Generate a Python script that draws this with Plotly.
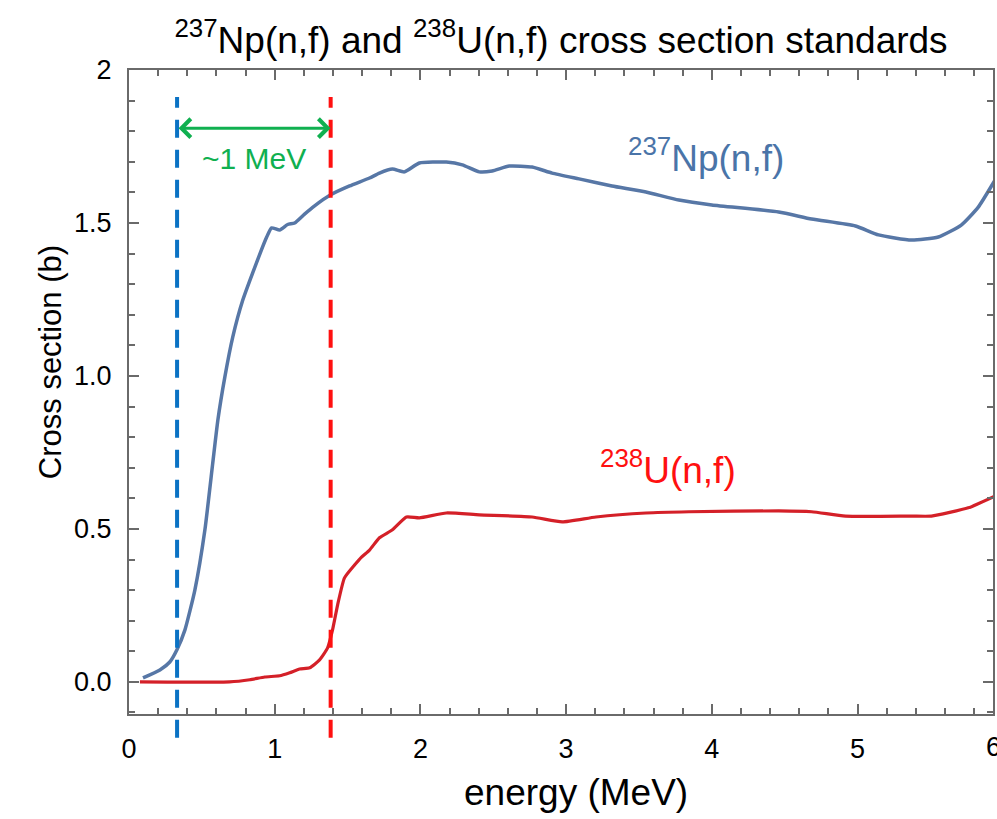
import plotly.graph_objects as go

# ---- data ----
np_energy = [0.096, 0.212, 0.28, 0.329, 0.384, 0.452, 0.521, 0.575, 0.61, 0.658, 0.712, 0.781,
             0.849, 0.945, 0.979, 1.034, 1.089, 1.137, 1.205, 1.274, 1.384, 1.514, 1.651, 1.719,
             1.808, 1.89, 1.993, 2.178, 2.288, 2.404, 2.493, 2.61, 2.767, 2.904, 3.089, 3.315,
             3.548, 3.774, 4.0, 4.459, 4.685, 4.986, 5.144, 5.37, 5.555, 5.712, 5.829, 5.945]
np_xs = [0.013, 0.039, 0.065, 0.105, 0.17, 0.30, 0.497, 0.716, 0.856, 0.997, 1.127, 1.248,
         1.337, 1.454, 1.484, 1.477, 1.495, 1.50, 1.529, 1.556, 1.592, 1.621, 1.647, 1.663,
         1.676, 1.667, 1.696, 1.699, 1.69, 1.667, 1.67, 1.686, 1.683, 1.663, 1.644, 1.621,
         1.601, 1.575, 1.559, 1.536, 1.513, 1.490, 1.461, 1.444, 1.454, 1.493, 1.552, 1.641]

u_energy = [0.075, 0.69, 0.829, 0.932, 1.034, 1.103, 1.171, 1.24, 1.308, 1.363, 1.397, 1.432,
            1.479, 1.548, 1.596, 1.651, 1.719, 1.808, 1.904, 1.993, 2.178, 2.404, 2.767, 2.973,
            3.205, 3.548, 3.842, 4.459, 4.685, 4.918, 5.37, 5.507, 5.76, 5.945]
u_xs = [0.0, 0.0, 0.007, 0.016, 0.02, 0.03, 0.042, 0.046, 0.072, 0.111, 0.17, 0.252,
        0.34, 0.382, 0.408, 0.431, 0.471, 0.497, 0.539, 0.536, 0.552, 0.546, 0.539, 0.523,
        0.539, 0.552, 0.556, 0.559, 0.556, 0.542, 0.542, 0.542, 0.569, 0.608]

np_threshold = 0.33   # MeV, blue dashed line
u_threshold = 1.384   # MeV, red dashed line
arrow_level = 1.81    # b, height of the ~1 MeV arrow

x_ticks = [0, 1, 2, 3, 4, 5]
y_ticks = [0.0, 0.5, 1.0, 1.5, 2.0]
y_tick_text = ["0.0", "0.5", "1.0", "1.5", "2"]
x_range = [0, 5.93]
y_range = [-0.105, 2.0]

FONT = "Arial, 'Liberation Sans', sans-serif"
AXC = "#6a6a6a"

fig = go.Figure()
fig.add_trace(go.Scatter(x=np_energy, y=np_xs, mode="lines",
                         line=dict(color="#5777a6", width=3.5, shape="spline", smoothing=0.5),
                         showlegend=False))
fig.add_trace(go.Scatter(x=u_energy, y=u_xs, mode="lines",
                         line=dict(color="#d42028", width=3.2, shape="spline", smoothing=0.5),
                         showlegend=False))

# dashed threshold lines (extend slightly below the x axis like the reference)
for xv, col in [(np_threshold, "#0a72c4"), (u_threshold, "#ff1010")]:
    fig.add_shape(type="line", xref="x", yref="paper", x0=xv, x1=xv, y0=-0.037, y1=0.958,
                  line=dict(color=col, width=4, dash="18px,12px"))

# double headed arrow
fig.add_annotation(x=u_threshold, y=arrow_level, ax=np_threshold, ay=arrow_level,
                   xref="x", yref="y", axref="x", ayref="y", text="", showarrow=True,
                   arrowhead=4, startarrowhead=4, arrowside="end+start", arrowsize=1.2,
                   startarrowsize=1.2, arrowwidth=3, arrowcolor="#10b050",
                   standoff=0, startstandoff=0)
fig.add_annotation(x=(np_threshold + u_threshold) / 2, y=1.71, xref="x", yref="y",
                   text="~1 MeV", showarrow=False,
                   font=dict(family=FONT, size=30, color="#10b050"))

fig.add_annotation(x=3.96, y=1.72, xref="x", yref="y", text="<sup>237</sup>Np(n,f)",
                   showarrow=False, font=dict(family=FONT, size=37, color="#4a74a8"))
fig.add_annotation(x=3.70, y=0.70, xref="x", yref="y", text="<sup>238</sup>U(n,f)",
                   showarrow=False, font=dict(family=FONT, size=37, color="#ff1010"))

# partially visible "6" tick label at the right edge
fig.add_annotation(x=6 / x_range[1], y=0, xref="paper", yref="paper", yanchor="top",
                   yshift=-16, text="6", showarrow=False,
                   font=dict(family=FONT, size=27, color="black"))

# axis titles (placed as in the reference, which is not centred on the plot)
fig.add_annotation(x=(577 - 129) / 866, y=-(792 - 714) / 644, xref="paper", yref="paper",
                   text="energy (MeV)", showarrow=False, xanchor="center", yanchor="middle",
                   font=dict(family=FONT, size=37, color="black"))
fig.add_annotation(x=-(129 - 50) / 866, y=(714 - 362) / 644, xref="paper", yref="paper",
                   text="Cross section (b)", textangle=-90, showarrow=False,
                   xanchor="center", yanchor="middle",
                   font=dict(family=FONT, size=31, color="black"))

fig.update_layout(
    width=997, height=819,
    margin=dict(l=129, r=2, t=70, b=105),
    paper_bgcolor="white", plot_bgcolor="white",
    title=dict(text="<sup>237</sup>Np(n,f) and <sup>238</sup>U(n,f) cross section standards",
               x=0.5, xref="paper", xanchor="center", y=1 - 40 / 819, yref="container",
               yanchor="middle", font=dict(family=FONT, size=37, color="black")),
    font=dict(family=FONT, color="black"),
)
fig.update_xaxes(range=x_range, tickvals=x_ticks, ticks="inside", ticklen=10, tickwidth=2,
                 tickcolor=AXC, showline=True, linecolor=AXC, linewidth=2, mirror="ticks",
                 showgrid=False, zeroline=False, tickfont=dict(size=27, family=FONT),
                 ticklabelstandoff=10,
                 minor=dict(ticks="inside", dtick=0.2, ticklen=6, tickwidth=2, tickcolor=AXC))
fig.update_yaxes(range=y_range, tickvals=y_ticks, ticktext=y_tick_text, ticks="inside",
                 ticklen=10, tickwidth=2, tickcolor=AXC, showline=True, linecolor=AXC,
                 linewidth=2, mirror="ticks", showgrid=False, zeroline=False,
                 tickfont=dict(size=27, family=FONT), ticklabelstandoff=10,
                 minor=dict(ticks="inside", dtick=0.1, ticklen=6, tickwidth=2, tickcolor=AXC))

fig.write_html("out.html")
